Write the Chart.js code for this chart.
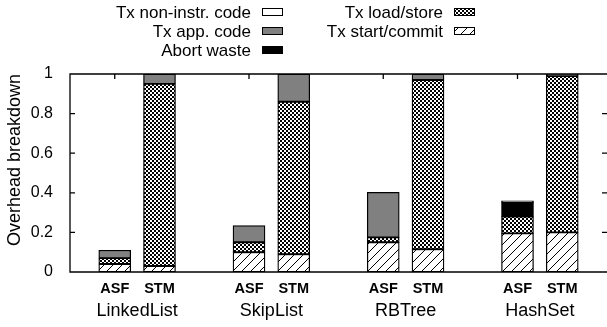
<!DOCTYPE html>
<html>
<head>
<meta charset="UTF-8">
<title>Overhead breakdown</title>
<script src="https://cdn.jsdelivr.net/npm/chart.js"></script>
<style>
  html, body { margin: 0; padding: 0; background: #fff; }
  #wrap { width: 607px; height: 327px; }
</style>
</head>
<body>
<div id="wrap"><canvas id="chart"></canvas></div>
<script>
const benchmarks = ['LinkedList', 'SkipList', 'RBTree', 'HashSet'];
const variants = ['ASF', 'STM'];
const yTicks = [0, 0.2, 0.4, 0.6, 0.8, 1];

// one value per bar: LinkedList ASF, LinkedList STM, SkipList ASF, SkipList STM, ...
const txStartCommit = [0.04, 0.03, 0.10, 0.09, 0.15, 0.115, 0.195, 0.20];
const txLoadStore   = [0.03, 0.92, 0.05, 0.77, 0.025, 0.855, 0.085, 0.79];
const abortWaste    = [0, 0, 0, 0, 0, 0, 0.07, 0.005];
const txAppCode     = [0.04, 0.05, 0.085, 0.14, 0.227, 0.03, 0.01, 0.005];
const txNonInstr    = [0, 0, 0, 0, 0, 0, 0, 0];

const FONT = '"Liberation Sans", Arial, Helvetica, sans-serif';
Chart.defaults.font.family = FONT;
Chart.defaults.color = '#000';

const canvas = document.getElementById('chart');
const ctx = canvas.getContext('2d');

function hatchPattern() {
    const c = document.createElement('canvas');
    c.width = 9; c.height = 9;
    const g = c.getContext('2d');
    g.fillStyle = '#fff';
    g.fillRect(0, 0, 9, 9);
    g.strokeStyle = '#000';
    g.lineWidth = 1;
    g.beginPath();
    g.moveTo(0, 9); g.lineTo(9, 0);
    g.moveTo(-1, 1); g.lineTo(1, -1);
    g.moveTo(8, 10); g.lineTo(10, 8);
    g.stroke();
    return ctx.createPattern(c, 'repeat');
}

function checkerPattern() {
    const c = document.createElement('canvas');
    c.width = 4; c.height = 4;
    const g = c.getContext('2d');
    g.fillStyle = '#fff';
    g.fillRect(0, 0, 4, 4);
    g.fillStyle = '#000';
    g.fillRect(0, 0, 2, 2);
    g.fillRect(2, 2, 2, 2);
    return ctx.createPattern(c, 'repeat');
}

const hatch = hatchPattern();
const checker = checkerPattern();

// bar slot on the linear x axis: two bars per benchmark, one empty slot between groups
const barPos = txStartCommit.map((_, i) => Math.floor(i / 2) * 3 + (i % 2));
const groupPos = benchmarks.map((_, i) => i * 3 + 0.5);
const xTickPos = barPos.concat(groupPos).sort((a, b) => a - b);

const series = [
    { label: 'Tx start/commit',    values: txStartCommit, fill: hatch },
    { label: 'Tx load/store',      values: txLoadStore,   fill: checker },
    { label: 'Abort waste',        values: abortWaste,    fill: '#000' },
    { label: 'Tx app. code',       values: txAppCode,     fill: '#808080' },
    { label: 'Tx non-instr. code', values: txNonInstr,    fill: '#fff' }
];

// legend layout, as in the figure: two columns, text then sample box
const legendCols = [
    ['Tx non-instr. code', 'Tx app. code', 'Abort waste'],
    ['Tx load/store', 'Tx start/commit']
];

const legendPlugin = {
    id: 'keyBox',
    afterDraw(chart) {
        const c = chart.ctx;
        const textRight = [251, 443];
        c.save();
        c.font = '17px ' + FONT;
        c.textAlign = 'right';
        c.textBaseline = 'middle';
        legendCols.forEach((col, ci) => {
            col.forEach((name, ri) => {
                const s = series.find(d => d.label === name);
                const y = 12 + ri * 19;
                c.fillStyle = '#000';
                c.fillText(name, textRight[ci], y + 1);
                const bx = textRight[ci] + 11;
                c.fillStyle = s.fill;
                c.fillRect(bx, y - 4, 21, 8);
                c.strokeStyle = '#000';
                c.lineWidth = 1;
                c.strokeRect(bx + 0.5, y - 3.5, 20, 7);
            });
        });
        c.restore();
    }
};

const framePlugin = {
    id: 'frame',
    afterDatasetsDraw(chart) {
        const c = chart.ctx;
        const a = chart.chartArea;
        const y = chart.scales.y, x = chart.scales.x;
        c.save();
        c.strokeStyle = '#000';
        c.lineWidth = 1.3;
        c.beginPath();
        c.moveTo(a.right, a.top);
        c.lineTo(a.left, a.top);
        c.lineTo(a.left, a.bottom);
        c.lineTo(a.right, a.bottom);
        yTicks.forEach(v => {
            const py = y.getPixelForValue(v);
            c.moveTo(a.left, py); c.lineTo(a.left + 5, py);
            c.moveTo(a.right, py); c.lineTo(a.right - 5, py);
        });
        benchmarks.forEach((_, i) => {
            const px = x.getPixelForValue(i * 3);
            c.moveTo(px, a.top); c.lineTo(px, a.top + 5);
        });
        c.stroke();
        c.restore();
    }
};

const isBarTick = v => Number.isInteger(v);

new Chart(ctx, {
    type: 'bar',
    data: {
        datasets: series.map(s => ({
            label: s.label,
            data: s.values.map((v, i) => ({ x: barPos[i], y: v || null })),
            backgroundColor: s.fill,
            borderColor: '#000',
            borderWidth: 1.3,
            borderSkipped: false,
            barThickness: 32
        }))
    },
    options: {
        responsive: true,
        maintainAspectRatio: false,
        animation: false,
        layout: { padding: { top: 74, left: 0, right: 0, bottom: 0 } },
        plugins: { legend: { display: false }, tooltip: { enabled: false } },
        scales: {
            x: {
                type: 'linear', stacked: true, min: -1, max: 11, offset: false,
                afterBuildTicks: s => { s.ticks = xTickPos.map(v => ({ value: v })); },
                afterFit: s => { s.paddingLeft = 0; s.paddingRight = 0; s.height = 55; },
                ticks: {
                    autoSkip: false, maxRotation: 0, minRotation: 0, padding: 8,
                    font: c => (c.tick && !isBarTick(c.tick.value))
                        ? { size: 18, lineHeight: 1.15 }
                        : { size: 14.5, weight: 'bold', lineHeight: 1.2 },
                    callback: v => isBarTick(v)
                        ? variants[v % 3]
                        : ['', benchmarks[Math.round((v - 0.5) / 3)]]
                },
                grid: { display: false, drawTicks: false }, border: { display: false }
            },
            y: {
                stacked: true, min: 0, max: 1,
                afterBuildTicks: s => { s.ticks = yTicks.map(v => ({ value: v })); },
                afterFit: s => { s.width = 70; },
                ticks: { padding: 17, font: { size: 16 }, callback: v => String(v) },
                grid: { display: false, drawTicks: false }, border: { display: false },
                title: {
                    display: true, text: 'Overhead breakdown', align: 'end',
                    font: { size: 18 }, padding: { top: 4, bottom: 4 }
                }
            }
        }
    },
    plugins: [framePlugin, legendPlugin]
});
</script>
</body>
</html>
